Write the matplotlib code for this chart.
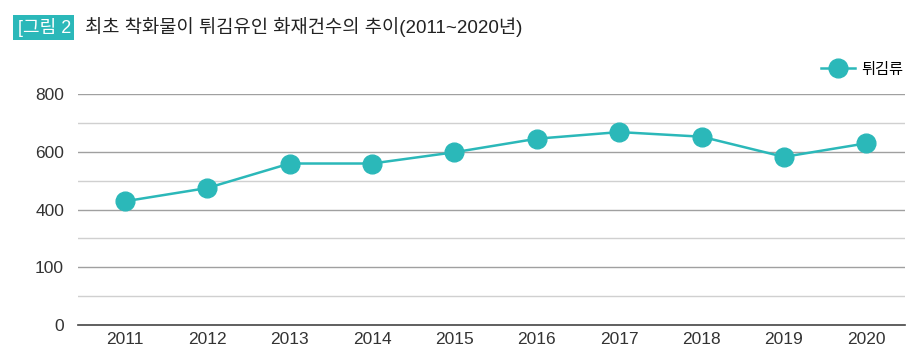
import matplotlib
matplotlib.use('Agg')
import matplotlib.pyplot as plt
from matplotlib.patches import Rectangle

plt.rcParams['font.family'] = ['Liberation Sans', 'Noto Sans CJK KR', 'DejaVu Sans']

years = [2011, 2012, 2013, 2014, 2015, 2016, 2017, 2018, 2019, 2020]
counts = [429, 475, 560, 560, 599, 646, 669, 653, 583, 630]
series_name = '튀김류'
ytick_pos = [0, 200, 400, 600, 800]
ytick_labels = ['0', '100', '400', '600', '800']
minor_pos = [100, 300, 500, 700]

teal = '#2bb8b9'

fig = plt.figure(figsize=(9.2, 3.6), dpi=100)
ax = fig.add_axes([78/920, 1 - 325/360, (905 - 78)/920, (325 - 94.3)/360])

for y in ytick_pos[1:]:
    ax.axhline(y, color='#a0a0a0', lw=1.0, zorder=1)
for y in minor_pos:
    ax.axhline(y, color='#d0d0d0', lw=1.0, zorder=1)

ax.plot(years, counts, color=teal, lw=1.8, marker='o', markersize=13.5,
        markerfacecolor=teal, markeredgecolor=teal, label=series_name,
        zorder=3, clip_on=False)

ax.set_xlim(2011 - 0.57, 2020 + 0.47)
ax.set_ylim(0, 800)
ax.set_xticks(years)
ax.set_xticklabels([str(y) for y in years])
ax.set_yticks(ytick_pos)
ax.set_yticklabels(ytick_labels)
ax.tick_params(axis='both', length=0, labelsize=12.5, colors='#333333')
ax.tick_params(axis='x', pad=5)
ax.tick_params(axis='y', pad=10)

for s in ['top', 'right', 'left']:
    ax.spines[s].set_visible(False)
ax.spines['bottom'].set_color('#444444')
ax.spines['bottom'].set_linewidth(1.2)

leg = ax.legend(loc='lower right', bbox_to_anchor=(1.005, 1.05), frameon=False,
                fontsize=11, handlelength=2.2, handletextpad=0.4, borderaxespad=0)

# title with teal label box
fig.patches.append(Rectangle((13/920, 1 - 40/360), 61/920, 25/360,
                             transform=fig.transFigure, facecolor=teal,
                             edgecolor='none'))
fig.text(18/920, 1 - 27.5/360, '[그림 2', color='white', fontsize=13,
         va='center', ha='left')
fig.text(85/920, 1 - 27.5/360, '최초 착화물이 튀김유인 화재건수의 추이(2011~2020년)',
         color='#222222', fontsize=13.5, va='center', ha='left')

fig.savefig('out.png', dpi=100)
